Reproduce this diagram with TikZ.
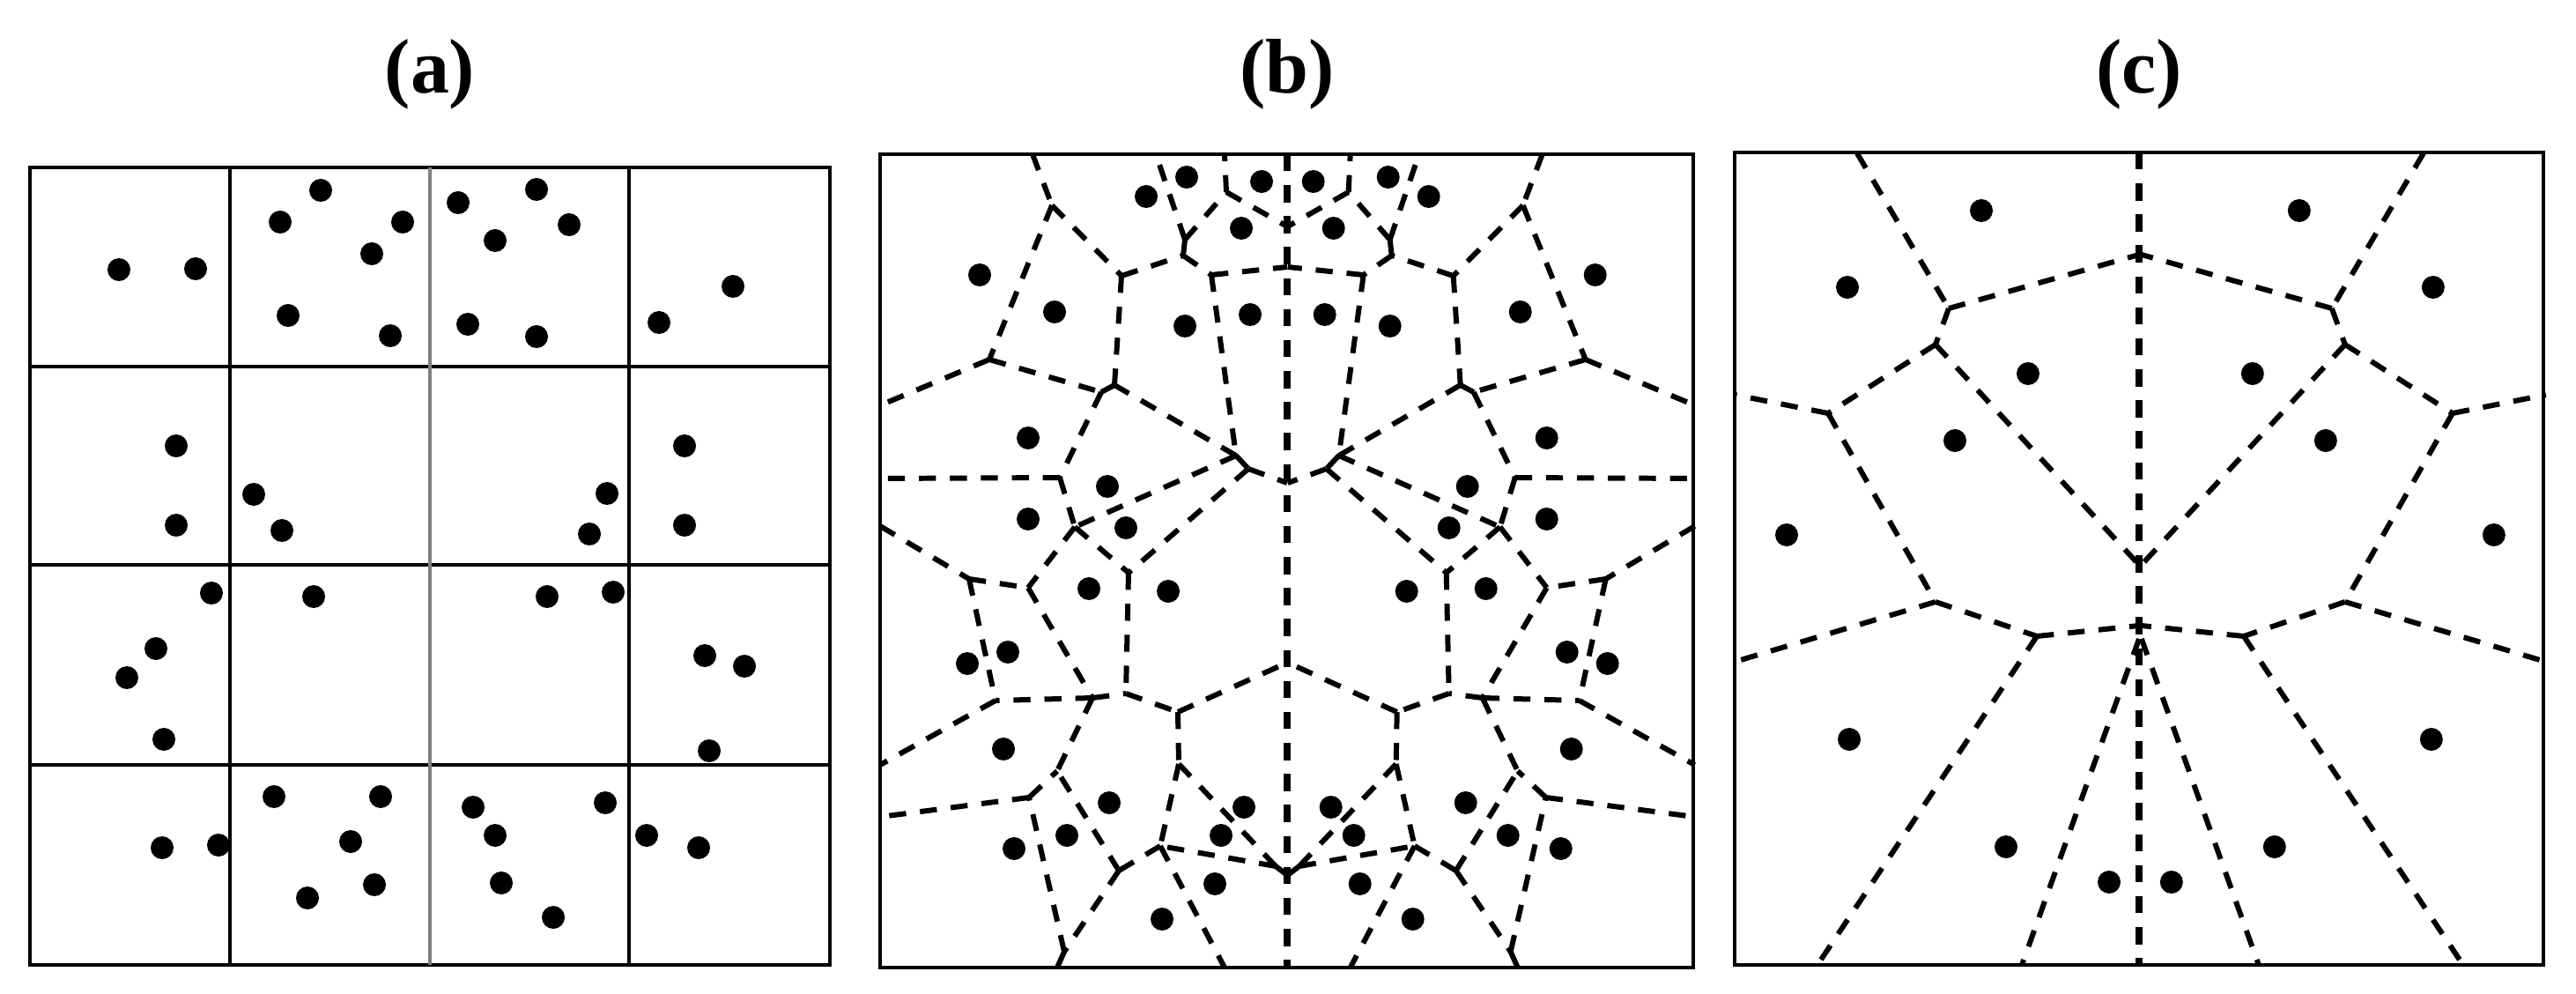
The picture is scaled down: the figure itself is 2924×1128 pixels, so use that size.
\documentclass[tikz,border=0pt]{standalone}
\usepackage{fontspec}
\setmainfont{Liberation Serif}
\newcommand\myBhalf{%
  \coordinate (T1) at (1172,175); \coordinate (T2) at (1312,175); \coordinate (T3) at (1390,175);
  \coordinate (L1) at (999,460); \coordinate (L2) at (999,543); \coordinate (L3) at (999,597);
  \coordinate (L4) at (999,868); \coordinate (L5) at (999,927);
  \coordinate (B1) at (1200,1098); \coordinate (B2) at (1390,1098);
  \coordinate (C1) at (1461,257); \coordinate (C2) at (1461,303); \coordinate (C3) at (1461,548);
  \coordinate (C4) at (1461,752); \coordinate (C5) at (1461,993);
  \coordinate (V1) at (1194,233); \coordinate (V2) at (1273,313); \coordinate (V3) at (1345,272);
  \coordinate (Vx) at (1343,290); \coordinate (V5) at (1392,218); \coordinate (V6) at (1375,312);
  \coordinate (V7) at (1403,517); \coordinate (V7b) at (1417,532); \coordinate (V8) at (1123,408);
  \coordinate (Va) at (1250,445); \coordinate (Vb) at (1265,437); \coordinate (V9) at (1203,542);
  \coordinate (V10) at (1220,598); \coordinate (Vc) at (1281,650); \coordinate (Vd) at (1167,667);
  \coordinate (Ve) at (1100,657); \coordinate (Vf) at (1130,795); \coordinate (Vg) at (1240,792);
  \coordinate (Vh) at (1278,787); \coordinate (Vi) at (1200,875); \coordinate (Vj) at (1337,808);
  \coordinate (Vk) at (1338,867); \coordinate (Vl) at (1448,983); \coordinate (Vm) at (1317,960);
  \coordinate (Vn) at (1270,988); \coordinate (Vo) at (1208,1080); \coordinate (Vp) at (1168,905);
  \draw[vor] (T1)--(V1) (V1)--(V2) (V1)--(V8) (V2)--(Vx) (V2)--(Vb) (Vx)--(V3) (Vx)--(V6)
    (V3)--(T2) (V3)--(V5) (V5)--(T3) (V5)--(C1) (V6)--(C2) (V6)--(V7) (V7)--(Vb) (V7)--(V7b)
    (V7b)--(C3) (V7)--(V10) (V7b)--(Vc) (V8)--(L1) (V8)--(Va) (Va)--(Vb) (Va)--(V9) (V9)--(L2)
    (V9)--(V10) (V10)--(Vc) (V10)--(Vd) (L3)--(Ve) (Ve)--(Vd) (Ve)--(Vf) (Vd)--(Vg) (Vc)--(Vh)
    (Vg)--(Vh) (Vg)--(Vf) (Vg)--(Vi) (Vh)--(Vj) (Vj)--(C4) (Vj)--(Vk) (Vk)--(Vl) (Vk)--(Vm)
    (Vl)--(C5) (Vl)--(Vm) (Vm)--(Vn) (Vm)--(B2) (Vn)--(Vi) (Vn)--(Vo) (Vo)--(Vp) (Vo)--(B1)
    (Vp)--(Vi) (Vp)--(L5) (Vf)--(L4);
  \foreach \p in {(1347,201),(1301,223),(1432,206),(1409,259),(1112,312),(1197,354),(1345,370),
    (1419,357),(1167,497),(1257,552),(1167,589),(1278,599),(1236,668),(1326,671),(1144,740),
    (1098,753),(1139,850),(1259,911),(1211,948),(1151,963),(1412,916),(1386,948),(1379,1003),(1319,1043)}
    \fill \p circle[radius=13];
}
\newcommand\myChalf{%
  \coordinate (cT) at (2108,174); \coordinate (cL1) at (1969,448); \coordinate (cL2) at (1969,751);
  \coordinate (cB1) at (2063,1095); \coordinate (cB2) at (2295,1095);
  \coordinate (cC1) at (2428,289); \coordinate (cC2) at (2428,641); \coordinate (cC3) at (2428,710);
  \coordinate (cC4) at (2428,725);
  \coordinate (W1) at (2212,350); \coordinate (W2) at (2197,391); \coordinate (W3) at (2075,469);
  \coordinate (W4) at (2197,683); \coordinate (W5) at (2312,722);
  \draw[vor] (cT)--(W1) (W1)--(cC1) (W1)--(W2) (W2)--(W3) (W2)--(cC2) (W3)--(cL1) (W3)--(W4)
    (W4)--(cL2) (W4)--(W5) (W5)--(cC3) (W5)--(cB1) (cC4)--(cB2);
  \foreach \p in {(2249,239),(2097,326),(2302,424),(2219,500),(2028,607),(2099,839),(2277,961),(2394,1001)}
    \fill \p circle[radius=13];
}
\begin{document}
\begin{tikzpicture}[x=0.01cm,y=-0.01cm,
  frame/.style={line width=1.1pt},
  vor/.style={line width=1.7pt,dash pattern=on 5.5pt off 4.5pt},
  mid/.style={line width=2.2pt,dash pattern=on 5.5pt off 4.5pt},
  ttl/.style={font=\bfseries\fontsize{25}{29}\selectfont}]
\useasboundingbox (0,0) rectangle (2924,1128);
% titles
\node[ttl] (ta) at (488,84) {(a)};
\node[ttl] (tb) at (1461,84) {(b)};
\node[ttl] (tc) at (2428,84) {(c)};
% panel a
\draw[frame] (34,190) rectangle (942,1095);
\draw[line width=1.4pt] (261,190)--(261,1095) (714,190)--(714,1095)
  (34,416)--(942,416) (34,641)--(942,641) (34,868)--(942,868);
\draw[line width=1.4pt,gray] (488,190)--(488,1095);
\foreach \p in {(135,306),(222,305),(364,216),(318,252),(457,252),(422,288),(327,358),(443,381),
  (200,506),(200,596),(288,561),(320,602),(240,673),(177,736),(144,769),(186,839),(356,677),
  (184,962),(248,959),(311,904),(432,904),(398,955),(425,1004),(349,1019),
  (520,230),(609,215),(646,255),(562,273),(531,368),(609,382),(832,325),(748,366),
  (777,506),(777,596),(689,560),(669,606),(621,677),(696,672),(800,744),(845,756),(805,852),
  (537,916),(687,911),(562,948),(569,1002),(628,1041),(734,948),(793,962)}
  \fill \p circle[radius=13];
% panel b
\draw[frame] (999,175) rectangle (1922,1098);
\myBhalf
\begin{scope}[xshift=29.21cm,xscale=-1]\myBhalf\end{scope}
\draw[mid] (1461,175)--(1461,1098);
% panel c
\draw[frame] (1969,173) rectangle (2887,1095);
\myChalf
\begin{scope}[xshift=48.56cm,xscale=-1]\myChalf\end{scope}
\draw[mid] (2428,173)--(2428,1095);
\end{tikzpicture}
\end{document}
